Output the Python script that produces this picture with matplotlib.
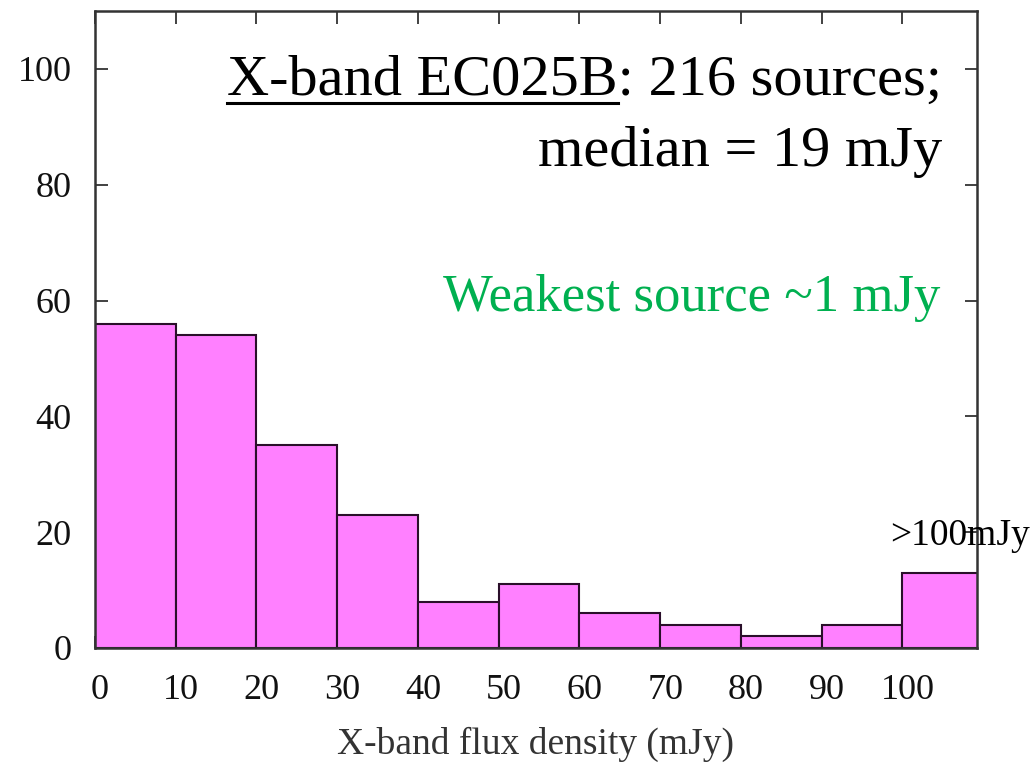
import matplotlib
matplotlib.use("Agg")
import matplotlib.pyplot as plt
import matplotlib.transforms as mtransforms
from matplotlib.lines import Line2D

# histogram of X-band flux densities (last bin is >100 mJy)
bin_left = [0, 10, 20, 30, 40, 50, 60, 70, 80, 90, 100]
counts = [56, 54, 35, 23, 8, 11, 6, 4, 2, 4, 13]
xticks = [0, 10, 20, 30, 40, 50, 60, 70, 80, 90, 100]
yticks = [0, 20, 40, 60, 80, 100]

plt.rcParams['font.family'] = ['Liberation Serif', 'DejaVu Serif']

W, H = 1034, 763
fig = plt.figure(figsize=(W / 100, H / 100), dpi=100)
ax = fig.add_axes([95 / W, 115 / H, (976.7 - 95) / W, (648 - 11) / H])

ax.bar(bin_left, counts, width=10, align='edge', color='#ff80ff',
       edgecolor='#2a0f2a', linewidth=1.5)
ax.set_xlim(0, 109.2)
ax.set_ylim(0, 110)
ax.set_xticks(xticks)
ax.set_yticks(yticks)
ax.set_axisbelow(True)
ax.tick_params(direction='in', length=9, width=1.3, top=True, right=True,
               labelsize=26, colors='#333333', labelcolor='#111111')
ax.tick_params(axis='x', pad=19)
ax.tick_params(axis='y', pad=17)
for s in ax.spines.values():
    s.set_linewidth(1.8)
    s.set_color('#333333')

# gnuplot puts the x labels a little to the right of the ticks
shift = mtransforms.ScaledTranslation(5 / 100, 0, fig.dpi_scale_trans)
for lab in ax.get_xticklabels():
    lab.set_transform(lab.get_transform() + shift)

ax.set_xlabel('X-band flux density (mJy)', fontsize=27, labelpad=14,
              color='#333333')

# annotations
t1 = fig.text(942 / W, 1 - 95 / H, 'X-band EC025B: 216 sources;', fontsize=42,
              ha='right', va='baseline')
fig.text(942 / W, 1 - 166 / H, 'median = 19 mJy', fontsize=42,
         ha='right', va='baseline')
fig.text(940 / W, 1 - 311 / H, 'Weakest source ~1 mJy', fontsize=38,
         ha='right', va='baseline', color='#00b050')
fig.text(890 / W, 1 - 545 / H, '>100mJy', fontsize=27,
         ha='left', va='baseline')

# underline under "X-band EC025B"
r = fig.canvas.get_renderer()
tmp = fig.text(0, 0, 'X-band EC025B', fontsize=42)
wpx = tmp.get_window_extent(r).width
tmp.remove()
x0 = t1.get_window_extent(r).x0
yl = (H - 102.5) / H
fig.add_artist(Line2D([x0 / W, (x0 + wpx) / W], [yl, yl], color='black',
                      linewidth=2.2, transform=fig.transFigure))

fig.savefig('out.png', dpi=100)
